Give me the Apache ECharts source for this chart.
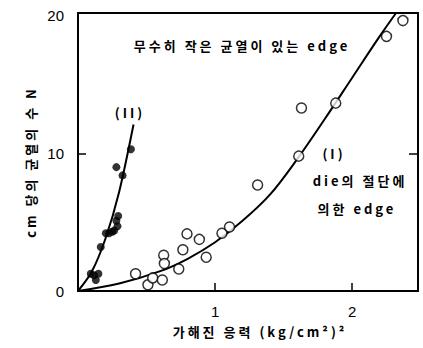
<!DOCTYPE html>
<html>
<head>
<meta charset="utf-8">
<script src="https://cdn.jsdelivr.net/npm/echarts@6/dist/echarts.min.js"></script>
<style>
  html, body { margin: 0; padding: 0; background: #fff; }
  #chart { width: 423px; height: 348px; }
</style>
</head>
<body>
<div id="chart"></div>
<script>
// Edges cut by the die (I): open circles
const dieEdgeX = [0.42, 0.51, 0.545, 0.615, 0.625, 0.63, 0.735, 0.765, 0.795, 0.885, 0.935, 1.05, 1.105, 1.31, 1.61, 1.63, 1.88, 2.25, 2.37];
const dieEdgeY = [1.25, 0.45, 0.95, 0.8, 2.6, 2.0, 1.6, 3.0, 4.15, 3.75, 2.45, 4.2, 4.65, 7.7, 9.8, 13.3, 13.65, 18.5, 19.65];

// Edges with many tiny cracks (II): filled dots
const crackEdgeX = [0.093, 0.117, 0.13, 0.149, 0.166, 0.203, 0.227, 0.25, 0.264, 0.288, 0.28, 0.293, 0.325, 0.28, 0.386];
const crackEdgeY = [1.25, 1.15, 0.8, 1.25, 3.2, 4.2, 4.2, 4.3, 4.4, 4.7, 5.1, 5.45, 8.4, 9.0, 10.3];

// Fitted curve through (I)
const curveIX = [0, 0.3, 0.6, 0.8, 1.0, 1.2, 1.4, 1.6, 1.8, 2.0, 2.2, 2.32];
const curveIY = [0, 0.54, 1.44, 2.34, 3.54, 5.1, 7.0, 9.6, 12.5, 15.5, 18.5, 20.2];

// Fitted line through (II)
const lineIIX = [0, 0.1, 0.2, 0.3, 0.405];
const lineIIY = [0, 1.4, 3.8, 7.2, 12.1];

// Axis ticks
const xTickValues = [1, 2];
const yTickValues = [0, 10, 20];
const yInnerTicks = [10];

const pairs = (xs, ys) => xs.map((x, i) => [x, ys[i]]);

const KR = '"Noto Sans CJK KR", "Noto Sans", sans-serif';
const NUM = '"Liberation Sans", Arial, sans-serif';
const LABEL_FONT = 'bold 13px ' + KR;

const chart = echarts.init(document.getElementById('chart'), null, { renderer: 'svg' });

chart.setOption({
  animation: false,
  backgroundColor: '#fff',
  grid: { left: 78, right: 5, top: 13, bottom: 57 },
  xAxis: [
    {
      type: 'value', min: 0, max: 2.48, position: 'bottom',
      axisLine: { show: true, lineStyle: { color: '#000', width: 2 } },
      axisTick: { show: true, inside: true, length: 8, customValues: xTickValues, lineStyle: { color: '#000', width: 1.5 } },
      axisLabel: { customValues: xTickValues, color: '#000', fontSize: 15, fontFamily: NUM, margin: 13 },
      splitLine: { show: false }
    },
    {
      type: 'value', min: 0, max: 2.48, position: 'top',
      axisLine: { show: true, onZero: false, lineStyle: { color: '#000', width: 2 } },
      axisTick: { show: false }, axisLabel: { show: false }, splitLine: { show: false }
    }
  ],
  yAxis: [
    {
      type: 'value', min: 0, max: 20.2, position: 'left',
      axisLine: { show: true, lineStyle: { color: '#000', width: 2 } },
      axisTick: { show: true, inside: true, length: 8, customValues: yInnerTicks, lineStyle: { color: '#000', width: 1.5 } },
      axisLabel: { customValues: yTickValues, color: '#000', fontSize: 15, fontFamily: NUM, margin: 14 },
      splitLine: { show: false }
    },
    {
      type: 'value', min: 0, max: 20.2, position: 'right',
      axisLine: { show: true, onZero: false, lineStyle: { color: '#000', width: 2 } },
      axisTick: { show: true, inside: true, length: 9, customValues: yInnerTicks, lineStyle: { color: '#000', width: 1.5 } },
      axisLabel: { show: false }, splitLine: { show: false }
    }
  ],
  series: [
    {
      type: 'line', smooth: 0.35, showSymbol: false, symbol: 'none',
      data: pairs(curveIX, curveIY),
      lineStyle: { color: '#000', width: 2 }, z: 2
    },
    {
      type: 'line', smooth: 0.3, showSymbol: false, symbol: 'none',
      data: pairs(lineIIX, lineIIY),
      lineStyle: { color: '#000', width: 2 }, z: 2
    },
    {
      type: 'scatter', symbol: 'circle', symbolSize: 10,
      data: pairs(dieEdgeX, dieEdgeY),
      itemStyle: { color: '#fff', borderColor: '#000', borderWidth: 1.5 }, z: 3
    },
    {
      type: 'scatter', symbol: 'circle', symbolSize: 8,
      data: pairs(crackEdgeX, crackEdgeY),
      itemStyle: { color: '#000' }, z: 4
    }
  ],
  graphic: [
    { type: 'text', x: 30, y: 162, rotation: Math.PI / 2,
      style: { text: 'cm 당의 균열의 수 N', font: LABEL_FONT, fill: '#000', align: 'center', verticalAlign: 'middle' } },
    { type: 'text', x: 260, y: 331,
      style: { text: '가해진 응력 (kg/cm²)²', font: LABEL_FONT, fill: '#000', align: 'center', verticalAlign: 'middle' } },
    { type: 'text', x: 242, y: 45,
      style: { text: '무수히 작은 균열이 있는 edge', font: LABEL_FONT, fill: '#000', align: 'center', verticalAlign: 'middle' } },
    { type: 'text', x: 130, y: 112,
      style: { text: '(II)', font: LABEL_FONT, fill: '#000', align: 'center', verticalAlign: 'middle' } },
    { type: 'text', x: 334, y: 153,
      style: { text: '(I)', font: LABEL_FONT, fill: '#000', align: 'center', verticalAlign: 'middle' } },
    { type: 'text', x: 360, y: 180,
      style: { text: 'die의 절단에', font: LABEL_FONT, fill: '#000', align: 'center', verticalAlign: 'middle' } },
    { type: 'text', x: 357, y: 208,
      style: { text: '의한 edge', font: LABEL_FONT, fill: '#000', align: 'center', verticalAlign: 'middle' } }
  ]
});

// The printed labels are set with wide tracking
function spaceOutLabels() {
  document.querySelectorAll('#chart svg text').forEach(t => {
    if (/[가-힣]|\(I/.test(t.textContent)) {
      t.style.letterSpacing = '3px';
    }
  });
}
chart.on('finished', spaceOutLabels);
spaceOutLabels();
</script>
</body>
</html>
